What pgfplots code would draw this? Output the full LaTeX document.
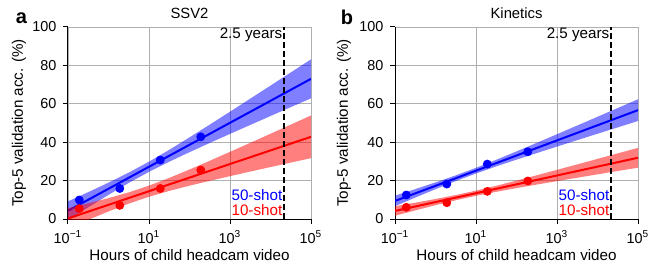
\documentclass[border=0pt]{standalone}
\usepackage{fontspec}
\setmainfont{Liberation Sans}
\setsansfont{Liberation Sans}
\usepackage{pgfplots}
\pgfplotsset{compat=1.18}
\definecolor{gridgray}{RGB}{176,176,176}
\tikzset{
 cband/.style={draw=none, fill=#1, fill opacity=0.5},
 cfit/.style={#1, line width=1pt},
 cpts/.style={only marks, mark=*, mark size=2pt, color=#1, mark options={draw=#1, fill=#1}},
 ctxt/.style={font=\fontsize{7.6}{9}\selectfont, inner xsep=0.8pt, inner ysep=0pt},
 ctitle/.style={font=\fontsize{7.4}{9}\selectfont, inner sep=0pt, anchor=base},
}
\pgfplotsset{
 every axis/.append style={
  scale only axis, width=121.5pt, height=96pt,
  xmin=0.1, xmax=1e5, ymin=0, ymax=100,
  clip mode=individual,
  xtick={0.1,10,1000,100000},
  xticklabels={10\textsuperscript{−1},10\textsuperscript{1},10\textsuperscript{3},10\textsuperscript{5}},
  xminorticks=false,
  ytick={0,20,40,60,80,100},
  grid=major, major grid style={gridgray, line width=0.4pt},
  axis x line*=bottom, axis y line*=left,
  axis line style={black, line width=0.5pt, -},
  tick align=outside, major tick length=2.3pt,
  tick style={black, line width=0.5pt},
  ticklabel style={font=\fontsize{7.2}{8}\selectfont},
  label style={font=\fontsize{7.6}{9}\selectfont},
  xlabel style={at={(axis description cs:0.5,0)}, anchor=base, yshift=-20.5pt},
 },
}
\begin{document}
\begin{tikzpicture}
\useasboundingbox (0,0) rectangle (333.5pt,133.5pt);
% ---------------- panel a ----------------
\begin{semilogxaxis}[at={(34pt,24pt)}, anchor=south west,
  /pgf/number format/assume math mode=true,
  xlabel={Hours of child headcam video},
  ylabel={Top-5 validation acc. (\%)},
  ylabel style={at={(axis description cs:0,0.5)}, anchor=center, rotate=0, yshift=24.5pt}]
\addplot[cband=blue] coordinates {
 (0.1,9.19) (0.3162,13.98) (1,18.92) (3.162,24.16) (10,29.85) (31.62,36.02) (100,42.50)
 (316.2,49.15) (1000,55.88) (3162,62.67) (10000,69.47) (31623,76.31) (100000,83.15)
 (100000,62.85) (31623,58.25) (10000,53.63) (3162,48.99) (1000,44.32) (316.2,39.61)
 (100,34.80) (31.62,29.84) (10,24.55) (3.162,18.80) (1,12.58) (0.3162,6.08) (0.1,-0.59)} -- cycle;
\addplot[cfit=blue] coordinates {(0.1,4.3) (100000,73.0)};
\addplot[cband=red] coordinates {
 (0.1,5.67) (0.3162,8.18) (1,10.87) (3.162,13.87) (10,17.38) (31.62,21.41) (100,25.77)
 (316.2,30.32) (1000,34.97) (3162,39.66) (10000,44.39) (31623,49.14) (100000,53.91)
 (100000,31.69) (31623,29.38) (10000,27.05) (3162,24.70) (1000,22.31) (316.2,19.88)
 (100,17.35) (31.62,14.63) (10,11.58) (3.162,8.01) (1,3.93) (0.3162,-0.46) (0.1,-5.03)} -- cycle;
\addplot[cfit=red] coordinates {(0.1,0.3) (100000,42.8)};
\addplot[cpts=blue] coordinates {(0.19,9.9) (1.9,15.9) (19,30.7) (190,42.8)};
\addplot[cpts=red] coordinates {(0.19,5.4) (1.9,7.1) (19,15.9) (190,25.5)};
\addplot[black, line width=1.1pt, dash pattern=on 2.8pt off 1.7pt] coordinates {(21900,0) (21900,100)};
\node[ctxt, anchor=north east] at (axis cs:21900,100) {2.5 years};
\node[ctxt, anchor=base east, text=blue] at (axis cs:21900,9.4) {50-shot};
\node[ctxt, anchor=base east, text=red] at (axis cs:21900,2) {10-shot};
\node[ctitle, yshift=4pt] at (rel axis cs:0.5,1) {SSV2};
\end{semilogxaxis}
% ---------------- panel b ----------------
\begin{semilogxaxis}[at={(197.5pt,24pt)}, anchor=south west,
  /pgf/number format/assume math mode=true,
  xlabel={Hours of child headcam video},
  ylabel={Top-5 validation acc. (\%)},
  ylabel style={at={(axis description cs:0,0.5)}, anchor=center, rotate=0, yshift=25.5pt}]
\addplot[cband=blue] coordinates {
 (0.1,12.15) (0.3162,15.56) (1,19.07) (3.162,22.73) (10,26.66) (31.62,30.85) (100,35.21)
 (316.2,39.66) (1000,44.16) (3162,48.69) (10000,53.24) (31623,57.80) (100000,62.36)
 (100000,51.04) (31623,47.72) (10000,44.40) (3162,41.07) (1000,37.72) (316.2,34.34)
 (100,30.91) (31.62,27.39) (10,23.70) (3.162,19.75) (1,15.53) (0.3162,11.16) (0.1,6.69)} -- cycle;
\addplot[cfit=blue] coordinates {(0.1,9.4) (100000,56.7)};
\addplot[cband=red] coordinates {
 (0.1,6.66) (0.3162,8.50) (1,10.41) (3.162,12.47) (10,14.77) (31.62,17.30) (100,19.99)
 (316.2,22.77) (1000,25.60) (3162,28.44) (10000,31.30) (31623,34.18) (100000,37.05)
 (100000,26.75) (31623,25.00) (10000,23.26) (3162,21.50) (1000,19.72) (316.2,17.93)
 (100,16.09) (31.62,14.16) (10,12.07) (3.162,9.75) (1,7.19) (0.3162,4.48) (0.1,1.70)} -- cycle;
\addplot[cfit=red] coordinates {(0.1,4.2) (100000,31.9)};
\addplot[cpts=blue] coordinates {(0.19,12.5) (1.9,18.2) (19,28.6) (190,35.0)};
\addplot[cpts=red] coordinates {(0.19,6.1) (1.9,8.5) (19,14.4) (190,19.8)};
\addplot[black, line width=1.1pt, dash pattern=on 2.8pt off 1.7pt] coordinates {(21900,0) (21900,100)};
\node[ctxt, anchor=north east] at (axis cs:21900,100) {2.5 years};
\node[ctxt, anchor=base east, text=blue] at (axis cs:21900,9.4) {50-shot};
\node[ctxt, anchor=base east, text=red] at (axis cs:21900,2) {10-shot};
\node[ctitle, yshift=4pt] at (rel axis cs:0.5,1) {Kinetics};
\end{semilogxaxis}
\node[font=\bfseries\fontsize{10}{12}\selectfont, inner sep=0pt] at (10.75pt,124.5pt) {a};
\node[font=\bfseries\fontsize{10}{12}\selectfont, inner sep=0pt] at (173.5pt,124.75pt) {b};
\end{tikzpicture}
\end{document}
